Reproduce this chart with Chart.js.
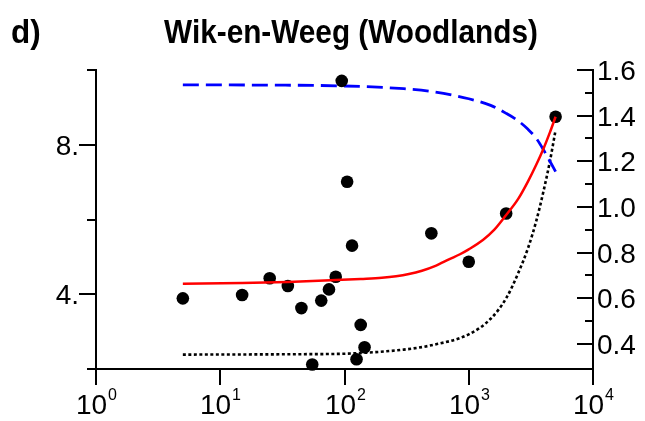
<!DOCTYPE html>
<html>
<head>
<meta charset="utf-8">
<title>Wik-en-Weeg (Woodlands)</title>
<script src="https://cdn.jsdelivr.net/npm/chart.js@4.4.1/dist/chart.umd.min.js"></script>
<style>
  html, body { margin: 0; padding: 0; background: #ffffff; }
  #c { display: block; }
</style>
</head>
<body>
<canvas id="c" width="645" height="421"></canvas>
<script>
// Observed values (left axis)
const obsX = [5, 15, 25, 35, 45, 55, 65, 75, 85, 95, 105, 115, 125, 135, 145, 500, 1000, 2000, 5000];
const obsY = [3.89, 3.98, 4.43, 4.22, 3.63, 2.12, 3.83, 4.13, 4.47, 9.71, 7.01, 5.30, 2.26, 3.18, 2.58, 5.63, 4.87, 6.16, 8.75];

// Fitted curve (left axis, red)
const fitX = [5, 15, 35, 85, 135, 200, 260, 330, 420, 540, 700, 850, 1000, 1300, 1600, 2000, 2500, 3000, 3500, 4000, 4500, 5000];
const fitY = [4.28, 4.30, 4.33, 4.38, 4.41, 4.44, 4.48, 4.54, 4.63, 4.76, 4.94, 5.07, 5.20, 5.45, 5.72, 6.12, 6.55, 7.02, 7.47, 7.90, 8.33, 8.75];

// Right-axis curves (blue dashed and black dotted)
const blueX = [5, 20, 100, 300, 500, 1000, 1500, 2000, 2500, 3000, 3500, 4000, 4500, 5000];
const blueY = [1.535, 1.534, 1.530, 1.518, 1.506, 1.474, 1.445, 1.41, 1.377, 1.34, 1.30, 1.25, 1.20, 1.155];
const dotX = [5, 50, 100, 300, 500, 1000, 1500, 2000, 2500, 3000, 3500, 4000, 4500, 5000];
const dotY = [0.353, 0.355, 0.357, 0.375, 0.394, 0.442, 0.51, 0.60, 0.71, 0.82, 0.94, 1.07, 1.20, 1.337];

// Axis ticks and labels
const xTicks = [1, 10, 100, 1000, 10000];
const xExponents = ['0', '1', '2', '3', '4'];
const leftTicks = [2, 4, 6, 8, 10];
const leftLabelled = [4, 8];
const leftLabels = ['4.', '8.'];
const rightMajor = [0.4, 0.6, 0.8, 1.0, 1.2, 1.4, 1.6];
const rightLabels = ['0.4', '0.6', '0.8', '1.0', '1.2', '1.4', '1.6'];
const rightMinor = [0.5, 0.7, 0.9, 1.1, 1.3, 1.5];

const titleText = 'Wik-en-Weeg (Woodlands)';
const panelText = 'd)';

const pairs = (xs, ys) => xs.map((x, i) => ({ x: x, y: ys[i] }));
const FONT = '"Liberation Sans", Arial, Helvetica, sans-serif';

// Draws the tick marks, tick labels and headings
const axisDecor = {
  id: 'axisDecor',
  afterDraw(chart) {
    const ctx = chart.ctx;
    const { left, right, top, bottom } = chart.chartArea;
    const xs = chart.scales.x, yl = chart.scales.y, yr = chart.scales.y2;
    ctx.save();
    ctx.strokeStyle = '#000';
    ctx.fillStyle = '#000';
    ctx.lineWidth = 2;
    const seg = (x1, y1, x2, y2) => { ctx.beginPath(); ctx.moveTo(x1, y1); ctx.lineTo(x2, y2); ctx.stroke(); };

    // left axis: long ticks where labelled, short otherwise (outward)
    leftTicks.forEach(v => {
      const py = Math.round(yl.getPixelForValue(v));
      const len = leftLabelled.includes(v) ? 17 : 9;
      seg(left - len, py, left, py);
    });
    ctx.font = '28px ' + FONT;
    ctx.textAlign = 'right';
    ctx.textBaseline = 'alphabetic';
    leftLabelled.forEach((v, i) => {
      const py = yl.getPixelForValue(v);
      ctx.fillText(leftLabels[i], left - 17, py + 10);
    });

    // right axis: ticks point into the plot
    rightMajor.forEach(v => {
      const py = Math.round(yr.getPixelForValue(v));
      seg(right - 16, py, right, py);
    });
    rightMinor.forEach(v => {
      const py = Math.round(yr.getPixelForValue(v));
      seg(right - 8, py, right, py);
    });
    ctx.textAlign = 'left';
    rightMajor.forEach((v, i) => {
      const py = yr.getPixelForValue(v);
      ctx.fillText(rightLabels[i], right + 4, py + 10);
    });

    // bottom axis: decade ticks and 10^n labels
    xTicks.forEach((v, i) => {
      const px = Math.round(xs.getPixelForValue(v));
      seg(px, bottom, px, bottom + 16);
      ctx.font = '28px ' + FONT;
      const wBase = ctx.measureText('10').width;
      ctx.font = '16px ' + FONT;
      const wExp = ctx.measureText(xExponents[i]).width;
      const x0 = px - (wBase + wExp) / 2;
      ctx.textAlign = 'left';
      ctx.font = '28px ' + FONT;
      ctx.fillText('10', x0, bottom + 45);
      ctx.font = '16px ' + FONT;
      ctx.fillText(xExponents[i], x0 + wBase + 1, bottom + 31);
    });

    // headings, set in a slightly condensed bold face
    ctx.font = 'bold 34px ' + FONT;
    const sx = 0.875;
    ctx.save();
    ctx.translate(351, 43);
    ctx.scale(sx, 1);
    ctx.textAlign = 'center';
    ctx.fillText(titleText, 0, 0);
    ctx.restore();
    ctx.save();
    ctx.translate(11, 43);
    ctx.scale(sx + 0.05, 1);
    ctx.textAlign = 'left';
    ctx.fillText(panelText, 0, 0);
    ctx.restore();
    ctx.restore();
  }
};

new Chart(document.getElementById('c'), {
  type: 'scatter',
  data: {
    datasets: [
      {
        label: 'fit',
        data: pairs(fitX, fitY),
        yAxisID: 'y',
        showLine: true,
        borderColor: '#ff0000',
        borderWidth: 2.5,
        pointRadius: 0,
        cubicInterpolationMode: 'monotone',
        fill: false
      },
      {
        label: 'observed',
        data: pairs(obsX, obsY),
        yAxisID: 'y',
        showLine: false,
        pointRadius: 6.3,
        pointHoverRadius: 6.3,
        pointBackgroundColor: '#000',
        pointBorderWidth: 0,
        clip: false
      },
      {
        label: 'blue',
        data: pairs(blueX, blueY),
        yAxisID: 'y2',
        showLine: true,
        borderColor: '#0000ff',
        borderWidth: 2.8,
        borderDash: [16, 7],
        pointRadius: 0,
        cubicInterpolationMode: 'monotone',
        fill: false
      },
      {
        label: 'dotted',
        data: pairs(dotX, dotY),
        yAxisID: 'y2',
        showLine: true,
        borderColor: '#000',
        borderWidth: 2.6,
        borderDash: [3, 2.5],
        pointRadius: 0,
        cubicInterpolationMode: 'monotone',
        fill: false
      }
    ]
  },
  options: {
    responsive: false,
    animation: false,
    devicePixelRatio: 1,
    layout: { padding: { top: 70, left: 0, right: 0, bottom: 0 } },
    plugins: { legend: { display: false }, tooltip: { enabled: false }, title: { display: false } },
    events: [],
    scales: {
      x: {
        type: 'logarithmic',
        position: 'bottom',
        min: 1,
        max: 10000,
        ticks: { display: false },
        grid: { display: false },
        border: { display: true, color: '#000', width: 2 },
        afterFit(s) { s.height = 52; }
      },
      y: {
        type: 'linear',
        position: 'left',
        min: 2,
        max: 10,
        ticks: { display: false },
        grid: { display: false },
        border: { display: true, color: '#000', width: 2 },
        afterFit(s) { s.width = 96; }
      },
      y2: {
        type: 'linear',
        position: 'right',
        min: 0.29,
        max: 1.6,
        ticks: { display: false },
        grid: { display: false },
        border: { display: true, color: '#000', width: 2 },
        afterFit(s) { s.width = 52; }
      }
    }
  },
  plugins: [axisDecor]
});
</script>
</body>
</html>
